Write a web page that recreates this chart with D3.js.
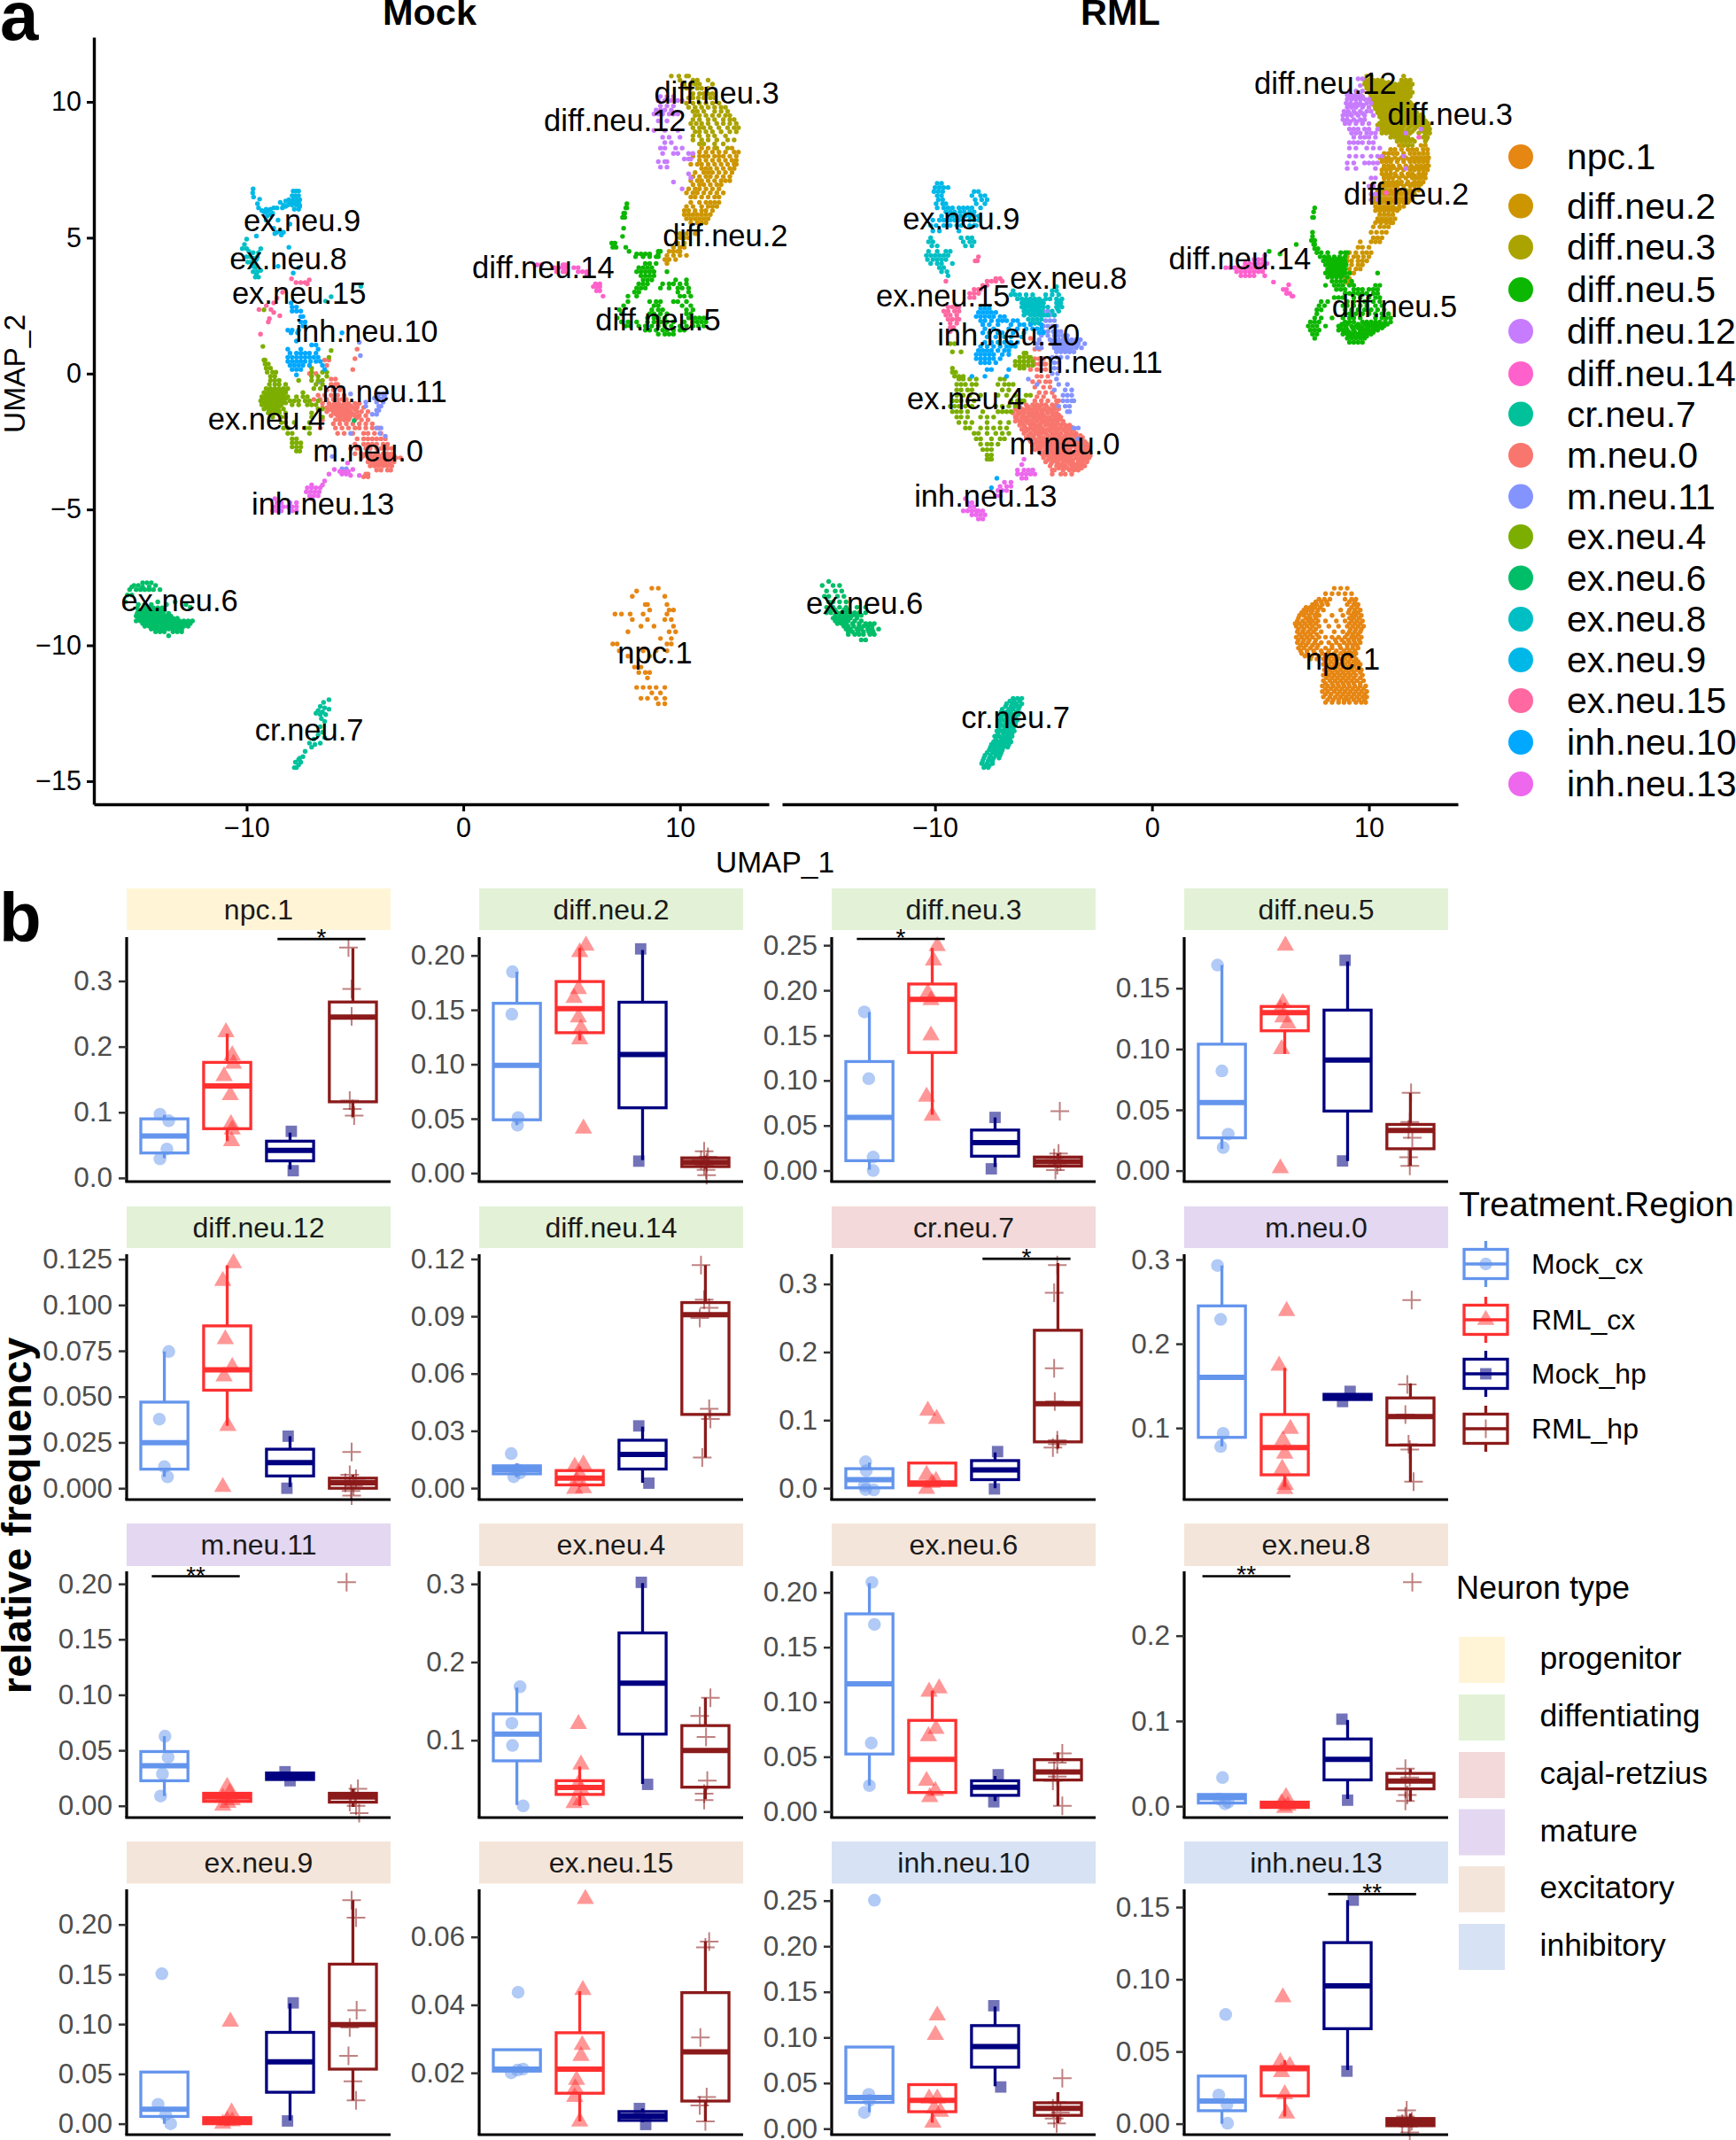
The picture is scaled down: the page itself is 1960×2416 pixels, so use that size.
<!DOCTYPE html>
<html><head><meta charset="utf-8">
<script src="https://cdnjs.cloudflare.com/ajax/libs/d3/7.8.5/d3.min.js"></script>
<style>html,body{margin:0;padding:0;background:#fff}svg{display:block;font-family:"Liberation Sans",Arial,sans-serif}</style>
</head><body><div id="chart"></div>
<script>
// ---------- UMAP clusters, each row is [y, x, x, ...] in UMAP units ----------
const clusterNames=["npc.1","diff.neu.2","diff.neu.3","diff.neu.5","diff.neu.12","diff.neu.14","cr.neu.7","m.neu.0","m.neu.11","ex.neu.4","ex.neu.6","ex.neu.8","ex.neu.9","ex.neu.15","inh.neu.10","inh.neu.13"];
const clusterColors=["#E68613","#CD9600","#ABA300","#0CB702","#C77CFF","#FF61CC","#00C19A","#F8766D","#8494FF","#7CAE00","#00BE67","#00BFC4","#00B8E7","#FF68A1","#00A9FF","#ED68ED"];
const mock_npc1=[[-7.9,8.7,9.0],[-8.0,8.0],[-8.2,7.8,9.3],[-8.5,8.5,8.4,9.4],[-8.7,8.6,9.5,9.7],[-8.85,7.0,7.3,7.7,8.3,9.4],[-9.05,7.8,8.5,9.6,9.3],[-9.3,8.2,8.8,9.7],[-9.5,7.6,9.8,9.5],[-9.75,9.1,9.6],[-9.95,7.1,6.9,9.4,9.6],[-10.2,7.2,8.3,8.9,9.4],[-10.4,7.6,8.6],[-10.8,7.9,8.2],[-11.0,8.1,8.4,8.6],[-11.2,8.5],[-11.55,8.0,8.3,8.6,8.9,9.3],[-11.75,8.7,9.1],[-11.95,8.2,8.5,8.9,9.3],[-12.15,9.0,9.3]];
const mock_diff2=[[8.3,11.0,11.3,11.6,12.4],[8.15,10.9,11.2,11.5,11.8,12.1,12.5,12.7],[8.0,10.6,10.9,11.1,11.3,11.6,11.8,12.0,12.3,12.6],[7.85,10.9,11.2,11.5,11.8,12.1,12.4,12.6],[7.7,10.5,10.8,11.0,11.3,11.6,11.9,12.2,12.5,12.6],[7.55,11.0,11.2,11.4,11.7,12.0,12.3,12.5],[7.4,10.7,11.1,11.3,11.5,11.8,12.1,12.4],[7.25,10.6,10.9,11.2,11.4,11.7,12.0,12.3],[7.1,10.5,10.8,11.0,11.3,11.6,11.9,12.1,12.3],[6.95,10.6,10.9,11.1,11.4,11.7,11.9],[6.8,10.4,10.7,10.9,11.2,11.5,11.8],[6.65,10.3,10.6,10.8,11.1,11.4,11.7,12.0],[6.5,10.5,10.7,11.0,11.3,11.6,11.8],[6.3,10.5,10.9,11.2,11.4,11.6,11.8],[6.15,10.3,10.6,11.0,11.3,11.5,11.7],[6.0,10.2,10.4,10.7,11.0,11.2,11.5],[5.85,10.2,10.4,10.6,10.8,11.0,11.2,11.4],[5.7,10.3,10.5,10.7,10.9,11.1,11.3],[5.55,10.5,10.8,11.0,11.2],[5.15,10.0,10.3,10.7,10.8],[5.0,10.0,10.2,10.4],[4.8,9.9,10.2],[4.65,9.7,10.0,10.2],[4.5,9.5,9.7,9.9,10.0],[4.35,9.4,9.7,10.0,10.3],[4.2,9.3,9.5,9.8],[4.05,9.4]];
const mock_diff3=[[10.95,9.6,9.95,10.3,10.4],[10.8,10.0,10.6,10.8,11.3],[10.65,10.2,10.5,10.7,10.9,11.5],[10.5,10.3,10.5,10.8,11.0,11.3],[10.3,10.6,10.9,11.1,11.3,11.5],[10.15,10.4,10.6,10.85,11.1,11.4,11.6],[9.95,10.3,10.6,10.9,11.2,11.5,11.8],[9.8,10.4,10.7,11.0,11.3,11.6,11.9,12.1],[9.65,10.6,10.8,11.1,11.6,11.9,12.2],[9.5,10.7,10.9,11.2,11.5,11.8,12.1,12.3],[9.35,10.6,10.9,11.3,11.6,12.0,12.3,12.5],[9.2,10.5,10.75,11.0,11.3,11.7,12.0,12.3,12.6],[9.05,10.6,10.9,11.1,11.4,11.8,12.2,12.5,12.7],[8.9,10.7,10.9,11.2,11.5,11.9,12.3,12.6],[8.75,10.6,10.9,11.3,11.6,12.1],[8.6,10.6,11.0,11.3,11.7,12.2,12.5],[8.45,10.9,11.1,11.6,12.0],[8.3,11.7,12.2]];
const mock_diff5=[[6.25,7.55],[6.1,7.5,7.55],[5.9,7.4,7.45],[5.75,7.35,7.45],[5.35,7.4],[5.05,7.35],[4.8,6.85,7.0],[4.65,6.9,7.05,7.5],[4.5,7.65,9.0,9.1],[4.4,8.0,8.2,8.4,8.6,9.0],[4.3,7.95,8.3,8.6,8.9,9.0],[4.05,8.4,8.6,8.9],[3.9,8.1,8.3,8.5,8.7],[3.75,8.0,8.2,8.4,8.6,8.8,9.4],[3.6,8.2,8.4,8.6,8.8],[3.45,8.3,8.5,8.7,9.8,10.3],[3.3,8.1,8.3,8.5,9.2,9.5,9.7,10.0,10.3],[3.15,8.0,8.2,8.4,9.1,9.5,9.9,10.1,10.4],[3.0,7.9,8.1,9.9,10.4],[2.85,8.0,7.6,10.0,10.2,10.5],[2.65,7.6,8.6,8.9,9.1,9.7,9.9,10.3],[2.5,7.4,8.8,9.0,10.1,10.5],[2.35,7.2,8.7,9.0,9.2,10.3,10.6],[2.2,7.3,8.6,8.8,9.1,9.4,10.3,10.5],[2.05,7.1,8.5,8.8,9.0,9.3,10.4,10.7,10.9,11.1],[1.9,7.3,7.6,8.0,8.5,8.8,9.1,9.4,9.7,10.2,10.6,10.8,11.0,11.2],[1.75,7.5,7.7,8.1,8.4,8.7,9.0,9.3,9.6,10.0,10.3,10.6,10.85,11.1],[1.6,8.4,8.6,8.9,9.2,9.4,9.7,10.0,10.2],[1.45,9.0,9.3,9.5,9.7]];
const mock_diff12=[[10.2,9.1,9.4,9.7],[10.05,9.0,9.3,9.6,9.9,10.1],[9.85,9.1,9.4,9.7],[9.7,8.9,9.1,9.3,9.6],[9.55,8.8,9.0,9.2,9.5,9.7,9.9],[9.3,9.0,9.4],[8.95,8.8,9.3,9.9],[8.7,9.2,9.5,10.0],[8.5,9.3,9.6],[8.3,9.1,9.3,9.8,10.1],[8.1,9.2,9.7,9.9,10.4,10.6],[7.9,10.2,10.4,10.5],[7.8,9.0,9.3,9.4],[7.6,9.1,9.4],[7.35,10.4],[7.05,9.7],[7.2,10.5],[6.8,10.1]];
const mock_diff14=[[4.0,3.4,3.6,4.6,4.7],[3.9,4.2,4.4,4.6,4.7,5.1,5.3],[3.75,4.3,4.6,4.7,5.3,5.5,5.7],[3.65,5.7],[3.3,6.1,6.3],[3.2,6.0,6.15,6.3],[3.05,6.15,6.3],[2.85,6.45]];
const mock_cr7=[[-12.0,-6.2],[-12.1,-6.45],[-12.25,-6.6],[-12.3,-6.4],[-12.35,-6.2],[-12.4,-6.7],[-12.45,-6.5],[-12.55,-6.35,-6.6],[-12.5,-6.8],[-12.7,-6.55],[-12.8,-6.4],[-13.0,-6.6],[-13.2,-6.5],[-13.3,-6.7],[-13.4,-6.4],[-13.45,-6.9],[-13.6,-6.6,-7.1],[-13.65,-6.85],[-13.75,-7.0],[-13.9,-7.3],[-14.1,-7.4],[-14.2,-7.6],[-14.3,-7.5,-7.75],[-14.4,-7.6],[-14.5,-7.7,-7.8],[-14.15,-7.55]];
const mock_m0=[[0.9,-4.9],[0.55,-5.0],[0.15,-5.1],[0.5,-6.4,-6.2],[0.3,-6.3],[0.0,-7.1,-6.8],[-0.2,-6.1,-5.9],[-0.4,-6.1,-5.9,-5.8],[-0.6,-6.3,-6.0,-5.7],[-0.8,-6.7,-6.4,-6.1,-5.8,-5.5],[-0.95,-6.9,-6.6,-6.3,-6.0,-5.8,-5.6,-5.4],[-1.1,-6.5,-6.2,-5.95,-5.75,-5.5,-5.3,-5.0,-4.8],[-1.25,-6.5,-6.3,-6.0,-5.8,-5.6,-5.4,-5.1,-4.9,-4.6],[-1.4,-6.3,-6.0,-5.8,-5.6,-5.4,-5.2,-4.9,-4.7,-4.4],[-1.55,-6.1,-5.8,-5.6,-5.4,-5.2,-5.0,-4.8,-4.5],[-1.7,-6.5,-5.9,-5.7,-5.5,-5.3,-5.0,-4.7,-4.4],[-1.85,-6.0,-5.7,-5.4,-5.1,-4.8,-4.5,-4.2],[-2.0,-6.6,-5.9,-5.6,-5.3,-5.0,-4.8,-4.5,-4.2,-3.9],[-2.2,-5.8,-5.5,-5.1,-4.6,-4.4,-4.1,-3.8],[-2.4,-4.9,-4.6,-4.4,-4.2,-4.0,-3.8,-3.6],[-2.6,-5.0,-4.6,-4.4,-4.2,-4.0,-3.7,-3.5],[-2.75,-5.2,-4.9,-4.5,-4.3,-4.0,-3.8,-3.5,-3.3],[-2.95,-5.0,-4.7,-4.5,-4.3,-4.0,-3.7,-3.5,-3.3],[-3.1,-4.7,-4.4,-4.2,-4.0,-3.8,-3.5,-3.3,-3.1,-2.9],[-3.25,-4.4,-4.2,-4.0,-3.8,-3.6,-3.4,-3.2],[-3.4,-4.3,-4.1,-3.9,-3.7,-3.5,-3.3],[-3.55,-4.0,-3.8,-3.5,-3.35],[-3.7,-4.5,-4.4],[-3.8,-4.6,-4.4],
[-1.18,-6.1,-5.85,-5.65,-5.4,-5.2,-4.9],[-1.32,-6.15,-5.9,-5.7,-5.5,-5.3,-5.0],[-1.48,-5.9,-5.7,-5.5,-5.3,-5.1],[-1.62,-5.7,-5.45,-5.25,-4.9],[-3.02,-4.6,-4.3,-4.1,-3.9,-3.6,-3.4,-3.2],[-3.18,-4.3,-4.1,-3.9,-3.7,-3.4,-3.2],[-3.32,-4.2,-4.0,-3.8,-3.6,-3.4]];
const mock_m11=[[1.15,-4.8],[0.66,-4.75],[-0.3,-6.65,-6.7],[-0.75,-3.9,-3.7,-3.6,-5.2],[-0.9,-4.1,-3.9,-3.7,-3.6],[-1.05,-4.5,-4.0,-3.7],[-1.2,-4.5,-3.9,-3.8],[-1.35,-4.0,-3.9],[-1.5,-4.2,-4.0],[-2.0,-4.0,-3.8],[-2.2,-3.85,-5.2],[-2.3,-3.6],[-3.05,-6.05],[-3.5,-5.6,-5.4],[-3.6,-5.5]];
const mock_ex4=[[2.35,-9.2],[1.0,-9.25],[0.85,-6.1],[0.6,-6.2],[0.5,-9.2,-9.15],[0.35,-9.15,-9.0],[0.2,-9.1,-8.9,-7.0],[0.05,-9.05,-8.8,-8.65,-6.5,-6.3,-7.0],[-0.1,-8.9,-8.7,-7.0,-6.7,-6.3],[-0.25,-8.9,-8.7,-8.5,-7.6,-7.0,-6.7,-6.5],[-0.4,-8.95,-8.7,-8.5,-8.2,-6.8,-6.5],[-0.55,-9.1,-8.9,-8.7,-8.5,-8.3,-8.1,-6.9,-6.6],[-0.7,-9.2,-9.0,-8.8,-8.6,-8.4,-8.2,-7.4],[-0.85,-9.3,-9.1,-8.9,-8.7,-8.5,-8.3,-8.1,-7.7,-7.4,-7.2],[-1.0,-9.35,-9.1,-8.9,-8.7,-8.5,-8.3,-8.0,-7.8,-7.6,-7.3,-7.1,-6.7],[-1.15,-9.3,-9.1,-8.9,-8.6,-8.4,-7.9,-7.6,-7.2,-7.0,-6.8],[-1.3,-9.2,-9.0,-8.8,-8.6,-8.3,-6.7,-6.5],[-1.45,-9.0,-8.7,-8.5,-8.2,-7.0],[-1.6,-8.8,-8.4,-8.2,-7.0,-6.5],[-1.8,-8.4,-8.2,-7.8,-7.1],[-2.0,-8.3,-8.1,-7.3,-7.1],[-2.2,-8.1,-7.9,-7.1],[-2.4,-7.9,-7.7],[-2.55,-7.9,-7.7,-7.5],[-2.7,-7.9,-7.7,-7.5],[-2.85,-7.7,-7.55],
[-0.62,-9.0,-8.8,-8.6,-8.4,-8.2],[-0.78,-9.1,-8.9,-8.7,-8.5,-8.3],[-0.92,-9.2,-9.0,-8.8,-8.6,-8.4,-8.2],[-1.08,-9.2,-9.0,-8.8,-8.6,-8.4,-8.2],[-1.22,-9.1,-8.9,-8.7,-8.5],[-1.38,-8.9,-8.7,-8.5]];
const mock_ex6=[[-7.7,-14.8,-14.6,-14.4],[-7.8,-15.2,-15.0,-14.2],[-7.95,-15.4,-15.1,-14.9,-14.7,-14.5,-14.3,-14.0],[-8.15,-15.5,-15.3],[-8.4,-15.6,-14.1,-13.3],[-8.5,-15.0,-14.7,-14.4,-13.7,-12.8],[-8.6,-12.6],[-8.72,-15.0,-14.8,-14.6,-14.4,-14.2,-14.0,-13.8],[-8.92,-15.1,-14.9,-14.7,-14.5,-14.3,-14.1,-13.9,-13.7,-13.5],[-9.1,-15.1,-14.9,-14.7,-14.5,-14.3,-14.1,-13.9,-13.7,-13.5,-13.3,-13.1,-12.9,-12.7,-12.5],[-9.3,-14.7,-14.5,-14.3,-14.1,-13.9,-13.7,-13.5,-13.3,-13.1,-12.9,-12.7],[-9.5,-14.2,-14.0,-13.8,-13.4,-13.2,-13.0],[-9.65,-13.6],[-1.73,-5.04],
[-8.62,-15.05,-14.7,-14.5,-14.3,-14.1,-13.9],[-8.82,-15.05,-14.85,-14.65,-14.45,-14.25,-14.05,-13.85,-13.6],[-9.0,-15.0,-14.8,-14.6,-14.4,-14.2,-14.0,-13.8,-13.6,-13.4,-13.2],[-9.2,-14.8,-14.6,-14.4,-14.2,-14.0,-13.8,-13.6,-13.4,-13.2,-13.0,-12.8,-12.6],[-9.4,-14.4,-14.2,-14.0,-13.8,-13.6,-13.4,-13.2,-13.0],[-7.85,-15.3,-14.8,-14.5]];
const mock_ex8=[[4.95,-10.0],[4.75,-10.1],[4.6,-10.2,-10.0,-9.35],[4.5,-9.9],[4.45,-9.7,-9.45],[4.3,-9.5,-10.0,-9.85],[4.25,-9.7],[4.2,-9.55],[4.1,-9.95,-9.8],[4.05,-9.65],[3.95,-9.75],[3.9,-9.6],[3.8,-9.35],[3.75,-9.7,-9.5],[3.65,-9.55],[3.55,-9.45,-9.6],[3.21,-4.73],[2.83,-6.1],[2.67,-6.36]];
const mock_ex9=[[6.8,-9.7],[6.65,-9.72],[6.5,-9.68],[6.42,-9.4],[6.25,-9.5],[6.1,-9.45,-8.6,-8.35,-8.75],[6.0,-9.3,-9.0],[5.95,-9.2,-9.1],[6.05,-9.1,-8.9,-7.8,-7.6],[5.9,-8.8],[5.8,-9.05],[5.85,-8.9],[6.3,-8.45,-8.0,-7.8,-7.6],[6.2,-8.3,-8.1,-7.9,-7.7,-7.55],[6.35,-8.2],[6.15,-8.2,-7.55],[6.4,-8.05,-7.85,-7.7,-7.55],[6.55,-7.9,-7.75,-7.6],[6.72,-7.85,-7.72,-7.6],[5.65,-8.55,-9.1],[5.5,-8.0],[5.35,-8.75],[5.25,-8.45],[5.2,-8.6,-8.3],[5.15,-8.7],[5.1,-8.4],[5.06,-9.55],[4.65,-8.05],[3.95,-8.55],[3.9,-7.6],[3.7,-7.85]];
const mock_ex15=[[3.49,-7.93],[3.45,-7.11],[3.35,-7.72,-7.5,-7.3],[3.3,-7.2],[2.99,-8.34],[2.78,-8.6],[2.6,-8.75],[2.5,-9.09],[2.36,-9.43,-8.88],[2.25,-8.75],[2.13,-8.47],[2.02,-8.95],[1.9,-9.0],[1.45,-9.36]];
const mock_inh10=[[2.6,-7.95],[2.45,-7.9,-7.7],[2.3,-7.9,-7.7,-7.5],[2.1,-7.5,-7.4],[1.9,-7.5,-7.3],[1.75,-7.4,-7.3],[1.6,-8.1,-7.9,-7.6],[1.5,-7.95,-7.65,-5.6],[1.2,-7.7],[1.05,-7.0,-6.8],[0.9,-8.1,-7.5,-6.7],[0.75,-8.0,-7.7,-7.5,-7.3,-7.1,-6.8],[0.6,-8.1,-7.9,-7.7,-7.5,-7.3,-7.1,-6.9,-6.7],[0.45,-8.1,-7.9,-7.7,-7.5,-7.3,-7.05,-6.8,-6.6],[0.3,-8.0,-7.8,-7.6,-7.4,-7.1,-6.5],[0.15,-7.9,-7.7,-7.5,-6.4],[-0.05,-7.7]];
const mock_inh13=[[-3.29,-5.34],[-3.53,-5.95,-5.1],[-3.6,-5.7,-5.5,-5.3],[-3.7,-6.2,-5.6,-5.4],[-3.75,-5.2,-4.8],[-3.95,-6.4],[-4.1,-6.5,-7.0],[-4.2,-7.2,-7.0,-6.8,-6.6],[-4.35,-7.25,-7.05,-6.85,-6.65],[-4.5,-7.1,-6.9,-6.7],[-4.6,-8.7,-7.0],[-4.75,-8.6,-8.4,-8.0,-7.7],[-4.9,-8.7,-8.5,-8.3,-8.1,-7.9,-7.7],[-5.05,-8.8,-8.6,-8.4,-7.9,-7.7]];

const rml_npc1=[[-7.9,8.4,8.7,9.0],[-8.1,8.0,8.3,8.6,8.9,9.2],[-8.3,7.7,7.95,8.2,8.9,9.2,9.4],[-8.5,7.4,7.6,7.85,8.1,9.0,9.3,9.5],[-8.7,7.0,7.2,7.4,7.65,7.9,8.7,9.1,9.35,9.6],[-8.9,6.8,7.0,7.25,7.5,7.7,8.3,8.8,9.2,9.4,9.65],[-9.1,6.7,6.95,7.2,7.4,7.65,8.0,8.5,8.9,9.2,9.45,9.7],[-9.3,6.65,6.9,7.15,7.4,7.7,8.15,8.6,9.0,9.25,9.5,9.75],[-9.5,6.7,6.95,7.2,7.45,7.8,8.4,8.8,9.1,9.35,9.6],[-9.7,6.65,6.9,7.15,7.4,7.7,8.0,8.3,8.6,8.9,9.2,9.4,9.65],[-9.9,6.7,6.95,7.2,7.5,7.8,8.15,8.5,8.85,9.1,9.35,9.6],[-10.1,6.75,7.0,7.3,7.6,8.0,8.3,8.7,9.0,9.25,9.5],[-10.3,6.9,7.15,7.5,7.85,8.1,8.4,8.7,8.95,9.2,9.4],[-10.5,7.3,7.6,7.9,8.15,8.4,8.65,8.9,9.15,9.4],[-10.7,7.9,8.15,8.4,8.65,8.9,9.15,9.4,9.6],[-10.9,7.95,8.2,8.45,8.7,8.95,9.2,9.45,9.65],[-11.1,7.9,8.15,8.4,8.65,8.9,9.15,9.4,9.7],[-11.3,7.9,8.2,8.45,8.7,8.95,9.2,9.45,9.75],[-11.5,7.85,8.1,8.35,8.6,8.85,9.1,9.35,9.6,9.85],[-11.7,7.85,8.1,8.4,8.65,8.9,9.15,9.4,9.65,9.9],[-11.9,7.9,8.2,8.45,8.7,8.95,9.2,9.45,9.7,9.9],[-12.1,8.0,8.3,8.6,8.85,9.1,9.4,9.65,9.85],
[-8.4,7.55,7.8,8.05,9.1,9.35],[-8.6,7.1,7.3,7.5,7.75,9.2,9.45],[-8.8,6.9,7.1,7.35,7.6,9.05,9.3,9.5],[-9.0,6.75,7.1,7.3,7.55,9.1,9.3,9.55],[-9.2,6.6,6.8,7.05,7.3,7.55,9.1,9.35,9.6],[-9.4,6.75,7.0,7.3,7.55,9.15,9.4,9.65],[-9.6,6.8,7.05,7.3,7.6,9.0,9.25,9.5],[-9.8,6.75,7.0,7.25,7.55,8.45,8.75,9.05,9.3,9.55],[-10.0,6.85,7.1,7.4,7.65,8.3,8.65,9.0,9.25,9.45],[-10.2,6.85,7.15,7.45,7.8,8.15,8.5,8.85,9.1,9.35],[-10.4,7.05,7.35,7.7,8.0,8.25,8.55,8.85,9.05,9.3],[-10.6,8.0,8.25,8.5,8.8,9.05,9.3,9.5],[-10.8,8.05,8.3,8.55,8.8,9.05,9.3,9.55],[-11.0,8.05,8.3,8.55,8.8,9.05,9.3,9.6],[-11.2,8.05,8.3,8.55,8.8,9.05,9.3,9.6],[-11.4,8.0,8.3,8.55,8.8,9.05,9.3,9.6],[-11.6,8.0,8.25,8.5,8.75,9.0,9.25,9.5,9.75],[-11.8,8.0,8.25,8.55,8.8,9.05,9.3,9.55,9.8],[-12.0,8.1,8.35,8.6,8.85,9.05,9.3,9.55,9.8]];
const rml_diff2=[[8.4,11.4,11.6,11.8,12.4,12.6],[8.25,11.0,11.2,11.5,11.8,12.0,12.2,12.5,12.7],[8.1,10.7,10.9,11.1,11.3,11.6,11.9,12.1,12.3,12.5,12.7],[7.95,10.5,10.7,10.9,11.2,11.5,11.7,12.0,12.2,12.4,12.6,12.75],[7.8,10.6,10.8,11.0,11.3,11.6,11.9,12.1,12.3,12.5,12.7],[7.65,10.7,10.9,11.1,11.4,11.7,11.95,12.2,12.4,12.6,12.75],[7.5,10.6,10.8,11.0,11.3,11.6,11.9,12.1,12.3,12.5,12.7],[7.35,10.6,10.8,11.0,11.2,11.5,11.8,12.0,12.3,12.5,12.6],[7.2,10.7,10.9,11.1,11.4,11.7,12.0,12.2,12.4,12.6],[7.05,10.7,10.9,11.1,11.3,11.5,11.8,12.1,12.3,12.5],[6.9,10.5,10.7,10.9,11.1,11.3,11.6,11.9,12.1,12.3],[6.75,10.4,10.6,10.8,11.0,11.2,11.4,11.7,11.9,12.1,12.3],[6.6,10.3,10.5,10.7,10.9,11.1,11.3,11.5,11.7,11.9,12.1],[6.45,10.2,10.4,10.6,10.8,11.0,11.2,11.4,11.6,11.8,12.0],[6.3,10.2,10.4,10.6,10.8,11.0,11.2,11.4,11.6,11.8],[6.15,10.3,10.5,10.7,10.9,11.1,11.4,11.6],[6.0,10.3,10.5,10.7,10.9,11.1,11.3],[5.85,10.5,10.7,10.9,11.1],[5.7,10.4,10.6,10.8,11.0,11.2],[5.55,10.3,10.55,10.8,11.0,11.1],[5.4,10.2,10.5,10.7,10.9],[5.2,10.1,10.35,10.6,10.8],[5.0,10.2,10.4,10.6],[4.85,9.6,10.1,10.3,10.5],[4.65,9.5,9.7,10.0],[4.45,9.1,9.4,9.7,9.9,10.1],[4.3,9.0,9.3,9.5,9.75,10.0],[4.15,9.0,9.2,9.5,9.7,9.9],[4.0,8.9,9.2,9.5,9.7],[3.85,9.1,9.4,9.6],[3.7,8.9,9.15,9.3],[3.5,8.9,9.1],[3.35,9.0,9.2],
[7.88,10.6,10.85,11.05,11.35,11.6,11.85,12.1,12.3,12.5,12.7],[7.58,10.7,10.95,11.15,11.45,11.75,12.0,12.2,12.4,12.6],[7.28,10.7,10.95,11.25,11.55,11.85,12.1,12.35,12.55],[6.98,10.6,10.85,11.05,11.25,11.45,11.75,12.0,12.2,12.4],[6.68,10.4,10.65,10.85,11.05,11.25,11.45,11.65,11.85,12.05],[6.38,10.3,10.5,10.7,10.9,11.1,11.3,11.5,11.7,11.9],[6.08,10.4,10.6,10.8,11.0,11.2,11.4],[5.62,10.4,10.65,10.9]];
const rml_diff3=[[10.95,9.9,10.1,11.6],[10.8,9.8,10.0,10.2,10.4,10.6,11.5,11.7,11.9],[10.65,9.8,10.0,10.2,10.4,10.6,10.8,11.0,11.2,11.4,11.6,11.8,12.0],[10.5,9.9,10.1,10.3,10.5,10.7,10.9,11.1,11.3,11.5,11.7,11.9],[10.35,10.0,10.2,10.4,10.6,10.8,11.0,11.2,11.4,11.6,11.8,12.0],[10.2,9.7,10.1,10.3,10.5,10.7,10.9,11.1,11.3,11.5,11.7,11.9],[10.05,10.1,10.3,10.5,10.7,10.9,11.1,11.3,11.5,11.7],[9.9,10.2,10.4,10.6,10.8,11.0,11.2,11.4,11.6,11.8,12.0],[9.75,10.3,10.5,10.7,10.9,11.1,11.3,11.5,11.7,11.9,12.1],[9.6,10.4,10.6,10.8,11.0,11.2,11.4,11.6,11.8,12.0,12.2],[9.45,10.5,10.7,10.9,11.1,11.3,11.5,11.7,11.9,12.1,12.3,12.5],[9.3,10.6,10.8,11.0,11.2,11.4,11.6,11.8,12.0,12.2,12.4,12.6],[9.15,10.4,10.6,10.8,11.0,11.2,11.4,11.6,11.8,12.0,12.2,12.4,12.6,12.75],[9.0,10.5,10.7,10.9,11.1,11.3,11.5,11.8,12.1,12.4,12.6,12.8],[8.85,10.6,10.8,11.0,11.2,11.4,11.6,11.9,12.3,12.6,12.8],[8.7,11.0,11.2,11.4,11.6,11.8,12.5,12.7],[8.55,11.3,11.5,11.7,11.9,12.1,12.6],[8.4,11.6,11.8,12.0],
[10.72,9.9,10.1,10.3,10.5,10.7,10.9,11.6,11.8],[10.58,9.9,10.1,10.3,10.5,10.7,10.9,11.1,11.3,11.5,11.7,11.9],[10.42,10.0,10.2,10.4,10.6,10.8,11.0,11.2,11.4,11.6,11.8],[10.28,10.1,10.3,10.5,10.7,10.9,11.1,11.3,11.5,11.7,11.9],[10.12,10.2,10.4,10.6,10.8,11.0,11.2,11.4,11.6,11.8],[9.98,10.2,10.4,10.6,10.8,11.0,11.2,11.4,11.6,11.9],[9.82,10.3,10.5,10.7,10.9,11.1,11.3,11.5,11.7,11.9],[9.68,10.4,10.6,10.8,11.0,11.2,11.4,11.6,11.8,12.0],[9.52,10.5,10.7,10.9,11.1,11.3,11.5,11.7,11.9,12.1,12.4],[9.38,10.6,10.8,11.0,11.2,11.4,11.6,11.8,12.0,12.2,12.5],[9.22,10.5,10.7,10.9,11.1,11.3,11.5,11.7,11.9,12.1,12.3,12.5,12.7],[9.08,10.6,10.8,11.0,11.2,11.4,11.6,11.9,12.2,12.5,12.7],[8.92,10.7,10.9,11.1,11.3,11.5,11.7,12.0,12.5,12.7],[8.78,11.1,11.3,11.5,11.7,12.6],[8.62,11.4,11.6,11.8,12.0,12.65]];
const rml_diff5=[[6.1,7.5],[5.95,7.45],[5.75,7.4,7.45],[5.2,7.4],[5.05,7.4],[4.9,7.35,7.5],[4.75,7.45,7.5],[4.6,7.5,7.65],[4.45,7.6,7.8,8.1,8.7,8.9,9.0],[4.3,7.75,7.95,8.15,8.4,8.65,8.9],[4.15,7.9,8.1,8.3,8.5,8.7,8.9],[4.0,8.0,8.2,8.4,8.6,8.8,8.95],[3.85,8.1,8.3,8.5,8.7,8.9],[3.7,8.0,8.15,8.35,8.55,8.75,8.9,9.1,10.4],[3.55,8.1,8.3,8.5,8.7,9.0],[3.4,8.3,8.5,8.7,8.9,9.2],[3.25,8.0,8.4,8.6,8.8,9.1,9.3,10.3,10.5],[3.1,8.5,8.7,8.9,9.3,9.5,9.7,10.0,10.2,10.4],[2.95,8.9,9.1,9.3,9.5,9.7,9.9,10.2,10.4],[2.8,8.4,8.6,8.8,9.3,9.6,10.0,10.3,10.5],[2.65,7.8,8.1,9.0,9.3,9.8,10.2,10.5],[2.5,7.7,7.95,8.8,9.0,9.3,9.6,9.9,10.3,10.6],[2.35,7.6,7.8,8.9,9.2,9.5,9.8,10.1,10.4,10.7],[2.2,7.6,8.9,9.1,9.4,9.7,10.0,10.3,10.6,10.9],[2.05,7.5,7.8,8.3,8.8,9.1,9.3,9.6,10.3,10.6,10.8,11.0],[1.9,7.3,7.5,7.7,8.9,9.1,9.3,9.7,9.9,10.1,10.3,10.5,10.75,11.0],[1.75,7.2,7.4,7.6,8.0,8.6,8.9,9.2,9.4,9.6,9.9,10.1,10.3,10.5,10.7],[1.6,7.3,7.5,7.7,8.6,8.8,9.0,9.3,9.6,9.8,10.0,10.2,10.4],[1.45,7.4,7.6,8.8,9.0,9.2,9.5,9.7,9.9,10.1],[1.3,7.5,9.0,9.2,9.4,9.6,9.8],[1.15,9.1,9.3,9.5,9.7],[4.4,5.9],[4.5,5.4],[4.75,6.65],
[4.22,8.0,8.2,8.4,8.6,8.8],[4.08,8.1,8.3,8.5,8.7,8.9],[3.92,8.2,8.4,8.6,8.8],[3.78,8.1,8.25,8.45,8.65,8.85],[3.62,8.2,8.4,8.6,8.8],[1.82,8.75,9.0,9.5,9.8,10.0,10.2,10.4,10.6,10.85],[1.68,8.7,8.95,9.25,9.5,9.7,9.95,10.2,10.4,10.6],[1.52,8.9,9.1,9.35,9.6,9.8,10.0,10.2],[1.38,9.1,9.3,9.5,9.7,9.9]];
const rml_diff12=[[10.85,9.5,9.7],[10.6,9.6],[10.4,9.1,9.4,9.7],[10.25,9.0,9.2,9.4,9.6],[10.1,9.0,9.2,9.4,9.6,9.8,10.0],[9.95,8.95,9.15,9.4,9.6,9.9,10.1],[9.8,9.0,9.2,9.4,9.7,10.0],[9.65,8.85,9.05,9.3,9.6,9.9,10.1],[9.5,8.8,9.0,9.2,9.5,9.8,10.2],[9.35,8.8,9.0,9.3,9.6,9.8],[9.2,8.9,9.1,9.4,9.7,10.0],[9.0,9.1,9.3,9.5,9.8,10.0,10.4,12.4],[8.85,9.2,9.4,9.6,9.9,10.1,10.3,11.7],[8.7,9.3,9.6,9.8,10.0,10.3],[8.5,9.1,9.3,9.5,9.7,10.0,10.2],[8.3,9.1,9.4,9.9,10.2,10.5],[8.0,9.1,9.4,9.7,10.1,10.4,10.6,11.6],[7.75,9.0,9.3,9.8,10.0,10.2,10.4],[7.55,9.0,9.4,10.3,11.7],[7.2,10.1,10.3],[6.9,10.0,10.2],[6.6,10.1,10.3],[6.4,10.1,10.4],
[10.18,9.1,9.3,9.5,9.7],[9.88,9.05,9.3,9.5,9.75],[9.58,8.95,9.1,9.4,9.7],[9.28,8.9,9.15,9.45,9.7]];
const rml_diff14=[[4.35,5.2],[4.2,4.7,4.9,5.1],[4.05,4.3,4.5,4.7,4.9,5.1,5.3],[3.9,3.4,3.6,3.8,4.0,4.2,4.4,4.6,4.8,5.0,5.2],[3.75,3.9,4.1,4.3,4.5,4.7,4.9,5.1],[3.6,4.1,4.3,4.5,4.7,5.2],[3.37,5.6],[3.27,6.3],[3.1,6.05,6.2],[2.95,6.2,6.35],[2.85,6.45,6.5],[8.7,12.3],[6.65,10.8]];
const rml_cr7=[[-11.95,-6.4,-6.2,-6.0],[-12.15,-6.7,-6.45,-6.25,-6.0],[-12.35,-6.9,-6.6,-6.4,-6.15],[-12.55,-7.0,-6.8,-6.55,-6.35,-6.15],[-12.75,-7.05,-6.85,-6.6,-6.4,-6.2],[-12.95,-7.1,-6.9,-6.7,-6.5,-6.3],[-13.15,-7.15,-6.95,-6.75,-6.55,-6.35],[-13.35,-7.25,-7.05,-6.85,-6.65,-6.45],[-13.55,-7.3,-7.1,-6.9,-6.7,-6.5],[-13.75,-7.45,-7.25,-7.05,-6.85,-6.65],[-13.95,-7.6,-7.35,-7.15,-6.95],[-14.15,-7.75,-7.5,-7.3,-7.05],[-14.35,-7.85,-7.6,-7.35],[-14.5,-7.75,-7.55],
[-12.05,-6.55,-6.35,-6.1],[-12.25,-6.75,-6.5,-6.3,-6.1],[-12.45,-6.95,-6.7,-6.5,-6.25],[-12.65,-6.95,-6.7,-6.5,-6.3],[-12.85,-7.0,-6.75,-6.55,-6.3],[-13.05,-7.05,-6.8,-6.6,-6.4],[-13.25,-7.1,-6.85,-6.65,-6.45],[-13.45,-7.2,-6.95,-6.75,-6.55],[-13.65,-7.4,-7.2,-7.0,-6.8,-6.6],[-13.85,-7.5,-7.3,-7.1,-6.9],[-14.05,-7.7,-7.45,-7.2,-7.0],[-14.25,-7.8,-7.55,-7.35],[-14.42,-7.7,-7.5]];
const rml_m0=[[1.3,-5.6],[0.9,-5.4,-5.2],[0.55,-5.4,-5.2,-5.0],[0.35,-5.4,-5.2,-5.0,-4.9],[0.15,-5.6,-5.3,-5.1,-4.9],[-0.1,-5.3,-5.1,-4.8],[-0.3,-5.5,-5.2,-4.9,-4.7],[-0.5,-5.4,-5.0,-4.7],[-0.7,-5.2,-4.9,-4.6],[-0.85,-5.3,-5.0,-4.5],[-1.0,-5.4,-5.1,-4.8,-4.4,-4.3],[-1.15,-6.2,-5.8,-5.5,-5.3,-5.1,-4.9,-4.6,-4.4],[-1.3,-6.3,-6.0,-5.8,-5.6,-5.4,-5.2,-5.0,-4.7,-4.5,-4.3],[-1.45,-6.4,-6.1,-5.9,-5.7,-5.5,-5.3,-5.1,-4.8,-4.6,-4.4],[-1.6,-6.3,-6.0,-5.8,-5.5,-5.3,-5.1,-4.9,-4.7,-4.4,-4.2],[-1.75,-6.3,-6.1,-5.8,-5.6,-5.3,-5.0,-4.8,-4.6,-4.4,-4.1],[-1.9,-6.1,-5.9,-5.6,-5.4,-5.2,-4.9,-4.7,-4.5,-4.2,-4.0,-3.8],[-2.05,-6.0,-5.7,-5.5,-5.2,-5.0,-4.8,-4.5,-4.3,-4.1,-3.8,-3.6],[-2.2,-5.9,-5.6,-5.3,-5.1,-4.9,-4.6,-4.4,-4.2,-3.9,-3.7,-3.5],[-2.35,-5.8,-5.5,-5.2,-5.0,-4.7,-4.5,-4.3,-4.1,-3.8,-3.6,-3.4,-3.2],[-2.5,-5.6,-5.3,-5.1,-4.9,-4.7,-4.5,-4.3,-4.0,-3.8,-3.5,-3.3,-3.1],[-2.65,-5.5,-5.2,-5.0,-4.7,-4.5,-4.3,-4.1,-3.9,-3.6,-3.4,-3.2,-3.0],[-2.8,-5.4,-5.2,-4.9,-4.7,-4.5,-4.2,-4.0,-3.8,-3.5,-3.3,-3.1,-2.9],[-2.95,-5.1,-4.9,-4.7,-4.4,-4.2,-4.0,-3.8,-3.6,-3.4,-3.1,-2.85],[-3.1,-5.0,-4.7,-4.4,-4.2,-4.0,-3.8,-3.5,-3.3,-3.1,-2.9],[-3.25,-4.9,-4.6,-4.4,-4.1,-3.9,-3.7,-3.4,-3.2,-3.0],[-3.4,-4.7,-4.4,-4.2,-4.0,-3.7,-3.5,-3.3,-3.1],[-3.55,-4.6,-4.5,-4.1,-3.8,-3.6,-3.4],[-3.7,-4.6,-4.2,-4.0,-3.7],
[-1.22,-6.1,-5.7,-5.4,-5.2,-4.85,-4.5],[-1.38,-6.2,-5.95,-5.7,-5.5,-5.3,-5.05,-4.85,-4.6],[-1.52,-6.2,-5.95,-5.65,-5.4,-5.2,-5.0,-4.55,-4.3],[-1.68,-6.2,-5.95,-5.7,-5.45,-5.15,-4.9,-4.7,-4.5,-4.25],[-1.82,-6.0,-5.7,-5.45,-5.1,-4.85,-4.6,-4.35,-4.1],[-1.98,-5.85,-5.6,-5.35,-5.1,-4.65,-4.4,-4.2,-3.95,-3.7],[-2.12,-5.8,-5.4,-5.15,-4.95,-4.7,-4.4,-4.0,-3.7],[-2.28,-5.7,-5.45,-5.2,-4.8,-4.55,-4.3,-4.0,-3.8,-3.55,-3.3],[-2.42,-5.65,-5.4,-5.1,-4.85,-4.6,-4.4,-4.2,-3.95,-3.7,-3.45,-3.25],[-2.58,-5.4,-5.2,-5.0,-4.8,-4.6,-4.4,-4.15,-3.9,-3.65,-3.4,-3.2,-3.0],[-2.72,-5.3,-5.1,-4.85,-4.6,-4.4,-4.2,-4.0,-3.75,-3.5,-3.3,-3.1,-2.9],[-2.88,-5.2,-5.0,-4.8,-4.55,-4.3,-4.1,-3.9,-3.7,-3.45,-3.2,-3.0,-2.85],[-3.02,-5.0,-4.8,-4.55,-4.3,-4.1,-3.9,-3.7,-3.5,-3.25,-3.0,-2.85],[-3.18,-4.8,-4.55,-4.3,-4.05,-3.85,-3.65,-3.4,-3.2,-3.0],[-3.32,-4.65,-4.3,-4.1,-3.8,-3.6,-3.4,-3.2],[-3.48,-4.3,-4.1,-3.9,-3.65,-3.45,-3.25]];
const rml_m11=[[2.3,-5.2,-5.0,-4.8],[2.15,-5.4,-5.1,-4.9,-4.7,-4.5],[1.95,-4.9,-4.7,-4.5],[1.75,-5.0,-4.8,-4.6,-4.4],[1.55,-5.0,-4.8,-4.55,-4.35,-4.2],[1.4,-5.1,-4.8,-4.5,-4.3,-4.1,-3.9],[1.25,-5.2,-4.7,-4.5,-4.3,-4.1,-3.9,-3.7,-3.5,-3.3],[1.1,-5.3,-5.1,-4.6,-4.4,-4.2,-4.0,-3.8,-3.6,-3.4,-3.1],[0.95,-5.3,-5.1,-4.5,-4.3,-4.1,-3.9,-3.7,-3.5,-3.25],[0.8,-4.4,-4.2,-4.0,-3.8,-3.6],[0.6,-4.6,-4.4,-4.2,-3.9],[0.4,-4.5,-4.3],[0.2,-4.5,-4.3],[0.0,-4.6,-4.35],[-0.2,-5.7,-4.4],[-0.4,-4.3,-3.9,-5.3],[-0.6,-4.5,-4.0,-3.7],[-0.8,-4.1,-3.9,-3.7],[-1.0,-4.1,-3.9,-3.7,-3.6],[-1.2,-4.3,-4.0,-3.8],[-1.4,-3.9,-3.8],[-2.0,-3.6,-3.4],[-2.4,-3.4],[-3.55,-5.5],
[1.18,-4.6,-4.4,-4.2,-4.0,-3.8,-3.6,-3.4],[1.02,-4.5,-4.3,-4.1,-3.9,-3.7,-3.45],[0.88,-4.4,-4.2,-4.0,-3.8]];
const rml_ex4=[[1.1,-9.3,-9.1],[0.8,-9.2,-8.8],[0.75,-5.9,-5.8],[0.6,-6.1,-5.9,-5.7,-5.6],[0.45,-6.3,-6.1,-5.9,-5.7,-5.5],[0.3,-6.3,-6.1,-5.9,-5.7,-5.5],[0.2,-9.2,-6.1,-5.9],[0.05,-9.2,-9.05],[-0.1,-9.1,-8.9,-8.7],[-0.2,-8.9,-8.7,-8.4,-8.1,-7.0,-6.8],[-0.4,-9.0,-8.8,-8.6,-8.3,-8.1,-7.1,-6.8,-6.6,-6.4],[-0.6,-9.0,-8.8,-8.5,-8.3,-6.9,-6.6],[-0.8,-9.0,-8.7,-8.4,-7.9,-7.1,-6.7,-6.3,-5.8,-5.6],[-1.0,-9.2,-9.0,-8.8,-8.5,-8.2,-6.5,-6.2,-6.0,-5.9],[-1.2,-9.3,-9.1,-8.9,-8.6,-8.3,-7.2,-6.9,-6.6,-6.3],[-1.4,-9.2,-9.0,-8.8,-8.5,-7.8,-7.1,-6.9,-6.7,-6.5],[-1.6,-9.0,-8.8,-8.5,-7.9,-7.6,-7.3],[-1.8,-8.9,-8.6,-8.3,-7.6,-7.0,-6.6],[-2.0,-8.6,-8.4,-7.9,-7.6,-7.3,-7.0,-6.7],[-2.2,-8.2,-8.0,-7.6,-7.2,-6.9,-6.6],[-2.4,-8.1,-7.9,-7.4,-7.0,-6.8],[-2.6,-7.9,-7.6,-7.4,-7.1],[-2.8,-7.8,-7.6,-7.4],[-3.0,-7.6,-7.4],[-3.15,-7.6,-7.5,-7.4]];
const rml_ex6=[[-7.65,-14.9],[-7.8,-15.2,-14.7,-14.4],[-8.0,-15.0,-14.6,-14.3],[-8.2,-15.1,-14.9,-14.5,-14.2],[-8.4,-14.9,-14.7,-14.4,-14.1],[-8.6,-15.0,-14.7,-14.4,-14.1,-13.6,-13.2],[-8.8,-15.0,-14.8,-14.5,-14.3,-14.1,-13.9,-13.7,-13.5,-13.2],[-9.0,-14.7,-14.5,-14.3,-14.1,-13.9,-13.6],[-9.2,-14.5,-14.3,-14.1,-13.8,-13.5,-13.2,-13.0,-12.8],[-9.4,-14.1,-13.9,-13.6,-13.4,-13.1,-12.9,-12.6],[-9.6,-14.0,-13.7,-13.5,-13.3,-13.0,-12.8],[-9.8,-13.4,-13.2],
[-8.7,-14.85,-14.6,-14.2,-14.0],[-8.9,-14.6,-14.4,-14.2,-14.0,-13.8,-13.6,-13.4],[-9.1,-14.6,-14.4,-14.2,-14.0,-13.7,-13.4],[-9.3,-14.2,-14.0,-13.75,-13.5,-13.3,-13.1,-12.9],[-9.5,-14.0,-13.8,-13.55,-13.3,-13.05,-12.85]];
const rml_ex8=[[5.0,-10.2,-8.8,-8.5,-8.3],[4.85,-10.1,-10.3,-8.7,-8.4,-8.2],[4.7,-10.15,-9.9,-8.6,-8.3],[4.5,-10.3,-9.9,-9.5,-9.3],[4.35,-10.4,-10.2,-10.0,-9.8,-9.6,-9.4],[4.2,-10.35,-10.1,-9.9,-9.7,-9.5],[4.05,-10.2,-9.9,-9.7,-9.2],[3.9,-9.8,-9.6],[3.75,-9.7,-9.45],[3.6,-9.4],[3.2,-4.4],[3.05,-4.6,-4.4,-6.4],[2.9,-6.5,-6.3,-6.1,-5.8,-5.5,-4.9,-4.6,-4.3],[2.75,-6.2,-6.0,-5.8,-5.6,-5.4,-5.2,-4.9,-4.7,-4.4,-4.15],[2.6,-6.0,-5.8,-5.6,-5.4,-5.2,-5.0,-4.4,-4.2],[2.45,-6.0,-5.8,-5.6,-5.4,-5.2,-5.0,-4.8,-4.4,-4.15],[2.3,-5.9,-5.7,-5.5,-5.3,-5.1,-4.6,-4.3],[2.15,-5.9,-5.6,-5.4,-5.2,-5.0,-4.8,-4.5],[2.0,-5.7,-5.5,-5.3,-5.1],[1.85,-5.6,-5.4,-5.2],
[2.68,-5.9,-5.7,-5.5,-5.3,-5.1,-4.3],[2.52,-5.9,-5.7,-5.5,-5.3,-5.1,-4.3],[2.38,-5.85,-5.6,-5.4,-5.2,-4.35],[2.22,-5.75,-5.5,-5.3,-5.1]];
const rml_ex9=[[7.0,-9.9,-9.7],[6.85,-10.0,-9.8,-9.6,-9.4],[6.7,-10.05,-9.85,-9.65,-8.2,-8.0],[6.55,-9.9,-9.7,-8.3,-7.9,-7.7],[6.4,-9.85,-9.65,-8.15,-7.85,-7.6],[6.25,-9.95,-9.65,-9.5,-8.1,-7.7],[6.1,-9.9,-9.6,-9.4,-9.2,-8.9,-8.7,-8.5,-8.3,-7.9],[5.95,-9.5,-9.3,-9.1,-8.85,-8.65,-8.4,-8.2],[5.8,-9.7,-9.4,-9.2,-9.0,-8.8,-8.6,-8.4,-8.2,-8.0],[5.65,-10.1,-9.8,-9.6,-9.3,-9.1,-8.9,-8.7,-8.4,-8.2,-8.0],[5.45,-10.2,-9.95,-9.6,-9.3,-9.0,-8.8,-8.4,-8.2,-8.1],[5.25,-10.1,-9.8,-8.9]];
const rml_ex15=[[3.5,-7.2,-7.0],[3.4,-7.6,-7.4,-7.2,-6.9],[3.25,-7.8,-7.6],[3.1,-8.2,-8.0,-7.9],[2.95,-8.4,-8.2,-8.0],[2.8,-8.4,-8.2],[2.45,-9.4,-9.2,-9.0,-8.9],[2.3,-9.6,-9.4,-9.1,-8.9],[2.15,-9.5,-9.3,-9.0],[2.0,-9.4,-9.2,-9.0,-8.9],[1.85,-9.3,-9.0],[1.7,-9.3,-9.15],[1.55,-9.3],[4.3,-8.0],[4.15,-8.05,-8.15],[3.4,-9.5]];
const rml_inh10=[[2.4,-7.9,-7.7,-7.5],[2.25,-8.0,-7.8,-7.6,-7.4,-7.2],[2.1,-8.1,-7.9,-7.7,-7.5,-7.3,-7.0,-6.8],[1.95,-7.9,-7.7,-7.4,-7.1,-6.9,-6.7,-6.4,-6.2],[1.8,-7.8,-7.5,-7.1,-6.5,-6.1,-5.9,-5.6,-5.1],[1.65,-7.7,-7.3,-6.6,-6.2,-5.8,-5.5,-5.3,-5.1],[1.5,-7.8,-7.5,-7.1,-6.9,-6.4,-5.9,-5.2,-5.0],[1.35,-7.6,-7.2,-6.8,-6.5,-6.0],[1.15,-7.7,-7.4,-7.1,-6.8,-6.5,-6.2],[1.0,-7.9,-7.6,-7.3,-7.0,-6.7,-6.5,-6.3],[0.85,-8.0,-7.8,-7.6,-7.4,-7.1,-6.8,-6.6],[0.7,-8.1,-7.9,-7.7,-7.5,-7.3,-6.9,-6.6],[0.55,-8.1,-7.9,-7.7,-7.5,-7.3,-7.0],[0.4,-7.9,-7.7,-7.5,-7.2],[0.15,-7.6,-7.4,-6.6],[-0.1,-8.3,-7.7,-6.7],[-3.85,-7.15],[-4.2,-7.4]];
const rml_inh13=[[-3.15,-5.9],[-3.35,-6.0],[-3.55,-6.2,-5.9,-5.7,-5.5],[-3.7,-6.2,-6.0,-5.8,-5.6,-5.4],[-3.85,-6.0,-5.8],[-4.0,-6.8,-6.5],[-4.15,-7.0,-6.7,-6.5],[-4.3,-7.1,-6.9,-6.7],[-4.5,-7.2,-7.0],[-4.6,-8.6],[-4.75,-8.5,-8.3],[-4.9,-8.4,-8.2],[-5.05,-8.7,-8.5,-8.3,-8.1,-8.0,-7.8],[-5.2,-8.3,-8.1,-7.9,-7.7],[-5.35,-8.0,-7.8]];

const mockClusters=[mock_npc1,mock_diff2,mock_diff3,mock_diff5,mock_diff12,mock_diff14,mock_cr7,mock_m0,mock_m11,mock_ex4,mock_ex6,mock_ex8,mock_ex9,mock_ex15,mock_inh10,mock_inh13];
const rmlClusters=[rml_npc1,rml_diff2,rml_diff3,rml_diff5,rml_diff12,rml_diff14,rml_cr7,rml_m0,rml_m11,rml_ex4,rml_ex6,rml_ex8,rml_ex9,rml_ex15,rml_inh10,rml_inh13];
// label anchor per cluster, same order as clusterNames: [x, y]
const mockLabels=[[8.85,-10.29],[12.09,5.07],[11.69,10.33],[8.99,1.98],[7.0,9.33],[3.69,3.89],[-7.11,-13.1],[-4.39,-2.83],[-3.64,-0.65],[-9.08,-1.67],[-13.1,-8.35],[-8.08,4.22],[-7.44,5.64],[-7.58,2.95],[-4.46,1.57],[-6.48,-4.79]];
const rmlLabels=[[8.79,-10.49],[11.72,6.62],[13.74,9.53],[11.18,2.48],[7.99,10.69],[4.05,4.24],[-6.29,-12.67],[-4.02,-2.59],[-2.39,0.41],[-8.59,-0.92],[-13.25,-8.45],[-3.85,3.5],[-8.79,5.7],[-9.63,2.85],[-6.61,1.43],[-7.67,-4.52]];

// ---------- Box panels ----------
const groupNames=["Mock_cx","RML_cx","Mock_hp","RML_hp"];
const groupColors=["#6495ED","#FF3030","#000080","#8B1A1A"];
const panelNames=["npc.1","diff.neu.2","diff.neu.3","diff.neu.5","diff.neu.12","diff.neu.14","cr.neu.7","m.neu.0","m.neu.11","ex.neu.4","ex.neu.6","ex.neu.8","ex.neu.9","ex.neu.15","inh.neu.10","inh.neu.13"];
const typeNames=["progenitor","diffentiating","cajal-retzius","mature","excitatory","inhibitory"];
const typeColors=["#FFF5D6","#E3F2D7","#F3D9D9","#E3D7F1","#F4E5DA","#D7E2F4"];
const panelTypes=[0,1,1,1,1,1,2,3,3,4,4,4,4,4,5,5];
const panelDomains=[[-0.0056,0.3668],[-0.0078,0.2168],[-0.0122,0.259],[-0.009,0.192],[-0.0062,0.1277],[-0.006,0.1225],[-0.0167,0.3437],[0.015,0.3063],[-0.0106,0.2113],[0.001,0.3161],[-0.0055,0.2192],[-0.0133,0.2755],[-0.011,0.2353],[0.0018,0.074],[-0.0066,0.2624],[-0.0076,0.1623]];
const panelTicks=[[0,0.1,0.2,0.3],[0,0.05,0.1,0.15,0.2],[0,0.05,0.1,0.15,0.2,0.25],[0,0.05,0.1,0.15],[0,0.025,0.05,0.075,0.1,0.125],[0,0.03,0.06,0.09,0.12],[0,0.1,0.2,0.3],[0.1,0.2,0.3],[0,0.05,0.1,0.15,0.2],[0.1,0.2,0.3],[0,0.05,0.1,0.15,0.2],[0,0.1,0.2],[0,0.05,0.1,0.15,0.2],[0.02,0.04,0.06],[0,0.05,0.1,0.15,0.2,0.25],[0,0.05,0.1,0.15]];
const panelTickDigits=[1,2,2,2,3,2,1,1,2,1,2,1,2,2,2,2];
// [whisker low, q1, median, q3, whisker high] per group
const box_npc1=[[.030,.038,.064,.090,.096],[.056,.075,.140,.176,.22],[.013,.026,.042,.056,.069],[.093,.116,.245,.268,.35]];
const box_diff2=[[.044,.049,.099,.156,.185],[.122,.129,.151,.176,.207],[.012,.060,.109,.157,.205],[.004,.006,.010,.014,.016]];
const box_diff3=[[.001,.011,.059,.121,.176],[.062,.131,.190,.207,.247],[.004,.016,.031,.045,.059],[.003,.005,.010,.015,.019]];
const box_diff5=[[.018,.027,.056,.104,.169],[.096,.115,.130,.135,.138],[.008,.049,.091,.132,.172],[.004,.018,.033,.038,.064]];
const box_diff12=[[.0062,.0104,.0249,.047,.0746],[.034,.0535,.0646,.0886,.1217],[.0007,.0067,.014,.0213,.0284],[-.0005,0,.003,.0055,.0073]];
const box_diff14=[[.006,.0075,.0098,.0117,.013],[.0005,.0017,.0053,.0092,.0113],[.0028,.01,.0177,.0251,.0322],[.016,.0386,.0908,.0972,.1168]];
const box_cr7=[[0,.0006,.0126,.0287,.0377],[.003,.0042,.0078,.037,.037],[0,.0126,.0269,.0406,.0526],[.0586,.0681,.1243,.232,.3306]];
const box_m0=[[.078,.0889,.160,.245,.293],[.03,.0444,.0768,.116,.1715],[.1335,.1338,.137,.14,.141],[.0362,.0797,.1135,.1357,.153]];
const box_m11=[[.0088,.0226,.0361,.0489,.0628],[.003,.004,.008,.0113,.012],[.0235,.0237,.0267,.0296,.03],[-.001,.0033,.008,.0113,.0153]];
const box_ex4=[[.0171,.0736,.1078,.1337,.1674],[.016,.0306,.0394,.0482,.0663],[.044,.1078,.1731,.2373,.301],[.0244,.0399,.087,.1187,.1544]];
const box_ex6=[[.0237,.0525,.1165,.1804,.2085],[.0148,.0174,.0477,.0832,.1102],[.0096,.0148,.0222,.0281,.0325],[.0052,.0288,.0362,.0473,.054]];
const box_ex8=[[.003,.0038,.01,.0138,.015],[-.001,-.0014,.002,.0048,.005],[.0086,.0309,.0551,.0789,.1012],[.006,.0204,.0295,.0385,.0435]];
const box_ex9=[[0,.0073,.0146,.0519,.052],[0,0,.003,.0061,.0065],[.0032,.0316,.0621,.0917,.1209],[.0235,.0548,.0994,.1602,.2243]];
const box_ex15=[[.0205,.0205,.0211,.0268,.0268],[.0057,.014,.0211,.0318,.044],[.0055,.006,.0073,.0086,.0095],[.0057,.0117,.0262,.0436,.0586]];
const box_inh10=[[.018,.0288,.0341,.0895,.0895],[.0066,.0186,.031,.0483,.0483],[.0465,.0674,.09,.113,.1339],[.006,.0146,.0222,.0284,.04]];
const box_inh13=[[0,.009,.0157,.033,.033],[.005,.0193,.0381,.0395,.044],[.0372,.0658,.0954,.1254,.1548],[-.002,-.0014,.001,.0036,.007]];
// observations per group: [horizontal jitter in group steps, value]
const pts_npc1=[[[-.07,.097],[.07,.087],[.04,.044],[-.07,.029]],[[-.02,.222],[.08,.187],[.10,.174],[-.05,.155],[.05,.126],[.06,.082],[.08,.074],[.07,.056]],[[.02,.071],[.05,.011]],[[-.07,.351],[-.02,.288],[-.02,.246],[-.05,.118],[-.01,.105],[.02,.095]]];
const pts_diff2=[[[-.07,.185],[-.08,.146],[.02,.051],[.01,.044]],[[.10,.209],[0,.203],[-.02,.169],[-.09,.161],[-.02,.143],[.02,.133],[0,.123],[.06,.041]],[[-.03,.206],[-.06,.011]],[[-.02,.020],[.04,.015],[-.07,.012],[.02,.010],[-.02,.007],[.01,.003],[.02,-.002]]];
const pts_diff3=[[[-.08,.176],[-.01,.102],[.06,.015],[.06,0]],[[.08,.249],[.02,.233],[-.07,.197],[-.02,.189],[-.02,.150],[-.09,.082],[0,.061]],[[0,.059],[-.06,.002]],[[.03,.066],[.01,.019],[-.06,.014],[.04,.010],[-.01,.006],[-.04,.0005]]];
const pts_diff5=[[[-.07,.169],[0,.082],[.10,.030],[.02,.019]],[[.01,.185],[-.03,.138],[-.07,.133],[-.03,.126],[.05,.121],[-.05,.100],[-.07,.002]],[[-.04,.173],[-.08,.008]],[[.01,.064],[-.01,.040],[-.03,.034],[.03,.027],[-.03,.011],[-.01,.004]]];
const pts_diff12=[[[.07,.0746],[-.08,.0377],[0,.0118],[.05,.0062]],[[.10,.1228],[-.07,.1132],[-.03,.0813],[.08,.0662],[-.05,.061],[.01,.034],[-.07,.0007]],[[-.03,.0284],[-.05,0]],[[-.02,.0198],[-.05,.0073],[.05,.0051],[-.12,.003],[.01,.0013],[-.03,-.0015],[-.02,-.004]]];
const pts_diff14=[[[-.09,.0181],[.01,.0096],[-.05,.006],[.05,.008]],[[.06,.0124],[-.08,.0113],[0,.007],[-.05,.0038],[.06,0],[-.08,-.0004]],[[-.06,.0326],[.10,.0026]],[[-.07,.1168],[-.02,.0987],[.06,.0944],[-.09,.0891],[.06,.0416],[.08,.0362],[-.05,.016]]];
const pts_cr7=[[[-.06,.0389],[-.05,.0257],[-.08,.0036],[.07,-.0024],[-.06,-.002]],[[-.07,.114],[.07,.102],[-.09,.0197],[.06,.0108],[0,.0078],[-.09,-.001]],[[.04,.0538],[-.01,-.001]],[[-.01,.3276],[-.06,.287],[-.06,.1763],[-.05,.1273],[-.01,.0705],[-.01,.0645],[-.08,.0598]]];
const pts_m0=[[[-.07,.293],[-.02,.229],[.02,.0937],[-.02,.078]],[[.03,.239],[-.09,.174],[.09,.099],[-.03,.0855],[0,.0696],[-.04,.0517],[.01,.0324],[0,.0275]],[[.04,.1435],[-.08,.1314]],[[.02,.252],[-.05,.1517],[-.08,.116],[-.03,.0807],[-.01,.0744],[.05,.0362]]];
const pts_m11=[[[.01,.0628],[.06,.0438],[-.03,.0288],[-.06,.0088]],[[0,.0172],[.04,.0117],[-.07,.0073],[.08,.0051],[-.07,0],[.01,.0026]],[[-.08,.0307],[0,.0226]],[[-.10,.2015],[.08,.0153],[-.03,.011],[.03,.0073],[-.05,.0033],[.05,0],[.10,-.0066]]];
const pts_ex4=[[[.05,.1684],[-.08,.1218],[-.07,.0933],[.10,.016]],[[-.02,.1207],[.02,.0689],[-.03,.043],[.02,.0378],[-.09,.0197],[.02,.0233]],[[-.02,.302],[.08,.0435]],[[.08,.1544],[-.09,.1311],[.01,.1041],[.03,.0482],[-.02,.0316],[-.02,.0233]]];
const pts_ex6=[[[.04,.2092],[.08,.1708],[.03,.0625],[0,.0237]],[[.11,.1124],[-.05,.1094],[.06,.0754],[-.06,.0688],[-.09,.0281],[.05,.0189],[-.04,.0133]],[[.05,.0336],[-.02,.0089]],[[.07,.0532],[-.01,.0447],[-.06,.0373],[-.01,.0318],[-.08,.0281],[.07,.0052]]];
const pts_ex8=[[[.01,.0337],[-.05,.0086],[.05,.0029],[.10,.0048]],[[.02,.0109],[-.05,.0038],[.05,.0005],[0,-.002]],[[-.09,.1021],[0,.0071]],[[.03,.2627],[-.08,.0442],[-.01,.0337],[-.08,.0204],[-.05,.0133],[-.08,.0062]]];
const pts_ex9=[[[-.04,.1505],[-.10,.0195],[.02,.0093],[.10,0]],[[.05,.1026],[.07,.0114],[0,.0032],[.08,.0024],[-.07,0]],[[.05,.1213],[-.04,.0028]],[[-.02,.2243],[.05,.2069],[.06,.114],[-.05,.0966],[-.07,.0682],[0,.0426],[.05,.0235]]];
const pts_ex15=[[[.02,.0437],[-.09,.02],[.01,.0208],[.10,.0211]],[[.09,.0712],[.05,.0444],[.04,.0282],[.02,.025],[-.05,.0179],[-.07,.0155],[-.08,.0129],[0,.0057]],[[-.05,.0095],[.05,.0048]],[[.06,.0586],[0,.0569],[-.08,.0304],[.02,.0129],[-.09,.0104],[0,.0057]]];
const pts_inh10=[[[.08,.2504],[-.01,.0377],[0,.031],[-.08,.0177]],[[.08,.1241],[.05,.1028],[-.05,.0332],[.08,.0332],[.03,.0222],[.13,.0186],[.01,.0066]],[[-.02,.1348],[.09,.0457]],[[.07,.0554],[-.01,.0288],[-.08,.0222],[.04,.0177],[-.02,.0058],[-.06,.0111]]];
const pts_inh13=[[[.06,.0756],[-.05,.0199],[.08,.0134],[.09,.0003]],[[-.03,.0876],[-.07,.0428],[.08,.04],[-.05,.0358],[0,.0204],[.03,.007]],[[.09,.1548],[-.01,.0364]],[[-.06,.0092],[-.08,.005],[.02,.0017],[-.13,0],[-.03,-.002],[-.01,-.006]]];
const panelBoxes=[box_npc1,box_diff2,box_diff3,box_diff5,box_diff12,box_diff14,box_cr7,box_m0,box_m11,box_ex4,box_ex6,box_ex8,box_ex9,box_ex15,box_inh10,box_inh13];
const panelPoints=[pts_npc1,pts_diff2,pts_diff3,pts_diff5,pts_diff12,pts_diff14,pts_cr7,pts_m0,pts_m11,pts_ex4,pts_ex6,pts_ex8,pts_ex9,pts_ex15,pts_inh10,pts_inh13];
// significance: [panel, group from, group to, value, stars]
const sigBars=[[0,2,3,.364,"*"],[2,0,1,.257,"*"],[6,2,3,.337,"*"],[8,0,1,.2069,"**"],[11,-.11,.89,.2698,"**"],[15,1.89,2.89,.159,"**"]];

// ---------- Layout ----------
const W=1960,H=2416,FONT='"Liberation Sans",Arial,sans-serif';
const svg=d3.select("#chart").append("svg").attr("width",W).attr("height",H).attr("viewBox",`0 0 ${W} ${H}`);
const text=(g,x,y,s,o={})=>g.append("text").attr("x",x).attr("y",y).text(s)
  .attr("font-size",o.size||30).attr("font-weight",o.weight||"normal").attr("fill",o.fill||"#000")
  .attr("text-anchor",o.anchor||"start").attr("dominant-baseline",o.base||"auto")
  .attr("transform",o.rotate?`rotate(${o.rotate} ${x} ${y})`:null);

// panel letters
text(svg,0,45,"a",{size:78,weight:"bold"});
text(svg,-1,1063,"b",{size:78,weight:"bold"});

// ---------- a: UMAP ----------
const umapY=d3.scaleLinear().domain([-15.85,12.38]).range([908,42]);
function umap(left,right,clusters,labels,title,titleX,showY){
  const g=svg.append("g");
  const x=d3.scaleLinear().domain([-17.05,14.1]).range([left,right]);
  clusters.forEach((rows,c)=>{
    const pts=rows.flatMap(([y,...xs])=>xs.map(v=>[v,y]));
    g.append("g").selectAll("circle").data(pts).join("circle")
      .attr("cx",d=>x(d[0])).attr("cy",d=>umapY(d[1])).attr("r",2.7).attr("fill",clusterColors[c]);
  });
  const ax=g.append("g").attr("transform","translate(0,908)").call(d3.axisBottom(x).tickValues([-10,0,10]).tickSizeInner(8).tickSizeOuter(0).tickPadding(7));
  ax.select(".domain").attr("stroke","#000").attr("stroke-width",3.4);
  ax.selectAll("line").attr("stroke","#000").attr("stroke-width",3);
  ax.selectAll("text").attr("font-size",30.5).attr("font-family",FONT).attr("fill","#000");
  if(showY){
    const ay=g.append("g").attr("transform",`translate(${left},0)`).call(d3.axisLeft(umapY).tickValues([-15,-10,-5,0,5,10]).tickSizeInner(8).tickSizeOuter(0).tickPadding(6));
    ay.select(".domain").attr("stroke","#000").attr("stroke-width",3.4);
    ay.selectAll("line").attr("stroke","#000").attr("stroke-width",3);
    ay.selectAll("text").attr("font-size",30.5).attr("font-family",FONT).attr("fill","#000");
  }
  labels.forEach((p,i)=>text(g,x(p[0]),umapY(p[1]),clusterNames[i],{size:34.5,anchor:"middle",base:"central"}));
  text(g,titleX,28,title,{size:41.5,weight:"bold",anchor:"middle"});
}
umap(106,868,mockClusters,mockLabels,"Mock",485,true);
umap(883,1646,rmlClusters,rmlLabels,"RML",1265,false);
text(svg,28,422,"UMAP_2",{size:33.5,anchor:"middle",rotate:-90});
text(svg,875,985,"UMAP_1",{size:33.5,anchor:"middle"});

// cluster legend
const clusterLegendY=[177,232.5,279,327,374,422,467.5,514,560.6,606,652.5,699,745,791,838,885];
const leg=svg.append("g");
clusterNames.forEach((n,i)=>{
  leg.append("circle").attr("cx",1717).attr("cy",clusterLegendY[i]).attr("r",14).attr("fill",clusterColors[i]);
  text(leg,1769,clusterLegendY[i],n,{size:41,base:"central"});
});

// ---------- b: box panels ----------
const colX=[[143,441],[541,839],[939,1237],[1337,1635]];
const rowY=[{s0:1003,s1:1050,t:1058,b:1334},{s0:1362,s1:1409,t:1416,b:1693},{s0:1720,s1:1768,t:1774,b:2052},{s0:2079,s1:2126.5,t:2133,b:2410}];
const sym={circle:d3.symbol().type(d3.symbolCircle).size(165)(),tri:d3.symbol().type(d3.symbolTriangle).size(165)(),square:d3.symbol().type(d3.symbolSquare).size(165)()};
const plusPath=(()=>{const p=d3.path();p.moveTo(-10.5,0);p.lineTo(10.5,0);p.moveTo(0,-10.5);p.lineTo(0,10.5);return p.toString();})();
const groupSym=[sym.circle,sym.tri,sym.square,plusPath];
function drawPoint(g,i,px,py){
  const s=g.append("path").attr("d",groupSym[i]).attr("transform",`translate(${px},${py})`);
  if(i===3) s.attr("fill","none").attr("stroke",groupColors[3]).attr("stroke-opacity",.55).attr("stroke-width",2);
  else s.attr("fill",groupColors[i]).attr("fill-opacity",i===2?.55:.5);
}
panelNames.forEach((name,k)=>{
  const c=k%4,r=Math.floor(k/4),[x0,x1]=colX[c],R=rowY[r];
  const g=svg.append("g");
  g.append("rect").attr("x",x0).attr("y",R.s0).attr("width",x1-x0).attr("height",R.s1-R.s0).attr("fill",typeColors[panelTypes[k]]);
  text(g,(x0+x1)/2,(R.s0+R.s1)/2+11,name,{size:32,anchor:"middle",fill:"#1A1A1A"});
  const x=d3.scalePoint().domain([0,1,2,3]).range([x0,x1]).padding(.6);
  const step=x.step(),bw=step*.75;
  const pos=v=>x(0)+v*step;
  const y=d3.scaleLinear().domain(panelDomains[k]).range([R.b,R.t]);
  panelBoxes[k].forEach((b,i)=>{
    const col=groupColors[i],cx=x(i),G=g.append("g");
    const [lo,q1,med,q3,hi]=b;
    G.append("line").attr("x1",cx).attr("x2",cx).attr("y1",y(lo)).attr("y2",y(hi)).attr("stroke",col).attr("stroke-width",3.3);
    G.append("rect").attr("x",cx-bw/2).attr("width",bw).attr("y",y(q3)).attr("height",Math.max(0,y(q1)-y(q3))).attr("fill","#fff").attr("stroke",col).attr("stroke-width",3.3);
    G.append("line").attr("x1",cx-bw/2).attr("x2",cx+bw/2).attr("y1",y(med)).attr("y2",y(med)).attr("stroke",col).attr("stroke-width",6);
    panelPoints[k][i].forEach(p=>drawPoint(G,i,cx+p[0]*step,y(p[1])));
  });
  const ay=g.append("g").attr("transform",`translate(${x0},0)`).call(d3.axisLeft(y).tickValues(panelTicks[k]).tickFormat(d3.format(`.${panelTickDigits[k]}f`)).tickSizeInner(9).tickSizeOuter(0).tickPadding(7));
  ay.select(".domain").attr("d",`M0,${R.t}V${R.b}`).attr("stroke","#000").attr("stroke-width",3.2);
  ay.selectAll("line").attr("stroke","#333").attr("stroke-width",2.5);
  ay.selectAll("text").attr("font-size",31.5).attr("font-family",FONT).attr("fill","#4D4D4D");
  g.append("line").attr("x1",x0-1.6).attr("x2",x1).attr("y1",R.b).attr("y2",R.b).attr("stroke","#000").attr("stroke-width",3.2);
  sigBars.filter(s=>s[0]===k).forEach(s=>{
    const a=pos(s[1])-.2*step,b=pos(s[2])+.2*step,yy=y(s[3]);
    g.append("line").attr("x1",a).attr("x2",b).attr("y1",yy).attr("y2",yy).attr("stroke","#000").attr("stroke-width",2.6);
    text(g,(a+b)/2,yy+8,s[4],{size:28,anchor:"middle"});
  });
});
text(svg,35,1711,"relative frequency",{size:47,weight:"bold",anchor:"middle",rotate:-90});

// Treatment.Region legend
const tr=svg.append("g");
text(tr,1647,1373,"Treatment.Region",{size:39});
const keyY=[1427,1490,1551,1613];
groupNames.forEach((n,i)=>{
  const col=groupColors[i],cy=keyY[i];
  tr.append("line").attr("x1",1677.5).attr("x2",1677.5).attr("y1",cy-26).attr("y2",cy+26).attr("stroke",col).attr("stroke-width",3.3);
  tr.append("rect").attr("x",1653).attr("y",cy-16.5).attr("width",49).attr("height",33).attr("fill","#fff").attr("stroke",col).attr("stroke-width",3.3);
  tr.append("line").attr("x1",1653).attr("x2",1702).attr("y1",cy).attr("y2",cy).attr("stroke",col).attr("stroke-width",3.3);
  drawPoint(tr,i,1677.5,cy);
  text(tr,1729,cy,n,{size:32,base:"central"});
});
// Neuron type legend
const nt=svg.append("g");
text(nt,1644,1805,"Neuron type",{size:36});
const typeY=[1848,1913,1978,2042.5,2107,2172];
typeNames.forEach((n,i)=>{
  nt.append("rect").attr("x",1647).attr("y",typeY[i]).attr("width",52).attr("height",52).attr("fill",typeColors[i]);
  text(nt,1738.6,typeY[i]+24,n,{size:35.5,base:"central"});
});
</script></body></html>
